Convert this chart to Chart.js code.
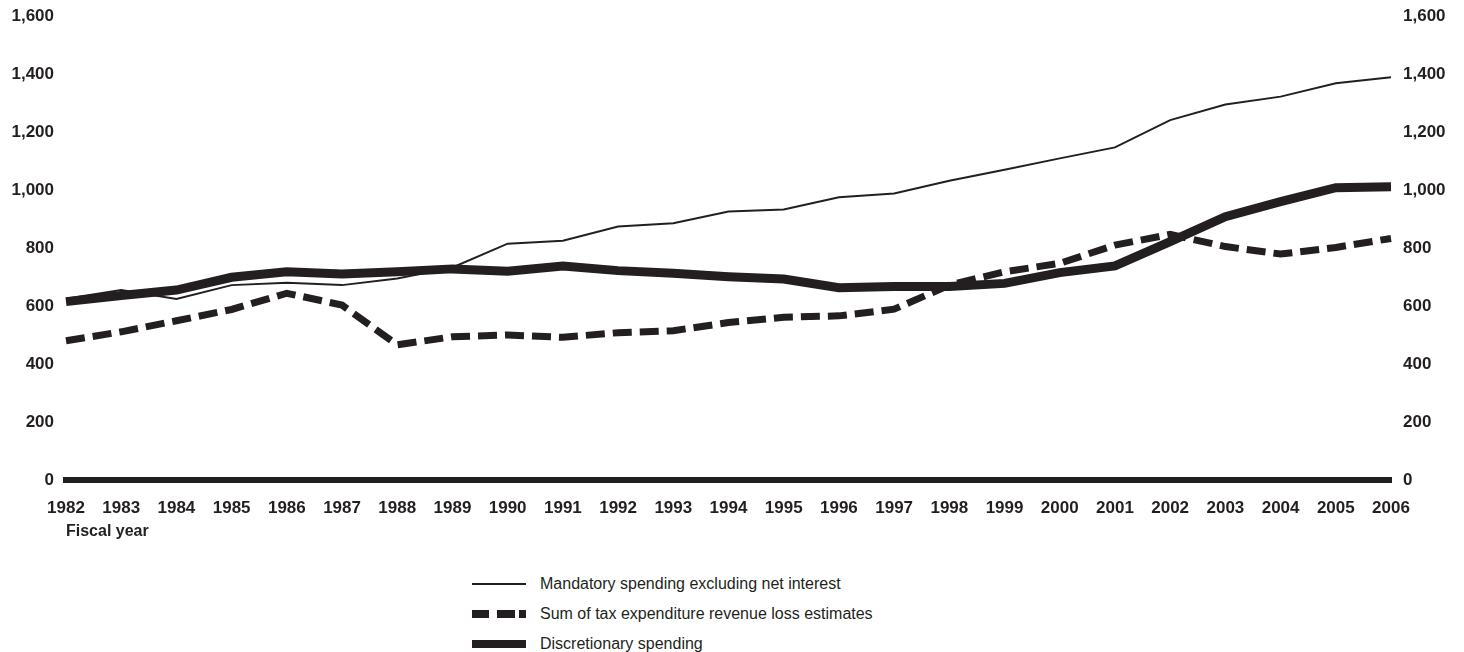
<!DOCTYPE html>
<html>
<head>
<meta charset="utf-8">
<script src="https://cdn.jsdelivr.net/npm/chart.js@4.4.1/dist/chart.umd.min.js"></script>
<style>
  body { margin: 0; background: #fff; }
  #wrap { position: relative; width: 1464px; height: 652px; }
  #box { position: absolute; left: 0; top: 0; width: 1464px; height: 560px; }
  .legend { position: absolute; left: 472px; top: 569px; font-family: "Liberation Sans", Arial, Helvetica, sans-serif; font-size: 16px; color: #231f20; }
  .row { height: 30px; display: flex; align-items: center; }
  .key { width: 54px; margin-right: 14px; position: relative; height: 10px; }
  .key span { position: absolute; left: 0; background: #231f20; }
</style>
</head>
<body>
<div id="wrap">
  <div id="box"><canvas id="lineChart"></canvas></div>
  <div class="legend">
    <div class="row"><div class="key"><span style="top:4px;width:54px;height:2px"></span></div>Mandatory spending excluding net interest</div>
    <div class="row"><div class="key">
      <span style="top:1px;width:17px;height:8px"></span>
      <span style="top:1px;left:25px;width:18px;height:8px"></span>
      <span style="top:1px;left:47px;width:7px;height:8px"></span>
    </div>Sum of tax expenditure revenue loss estimates</div>
    <div class="row"><div class="key"><span style="top:1px;width:54px;height:8px"></span></div>Discretionary spending</div>
  </div>
</div>
<script>
var years = ["1982","1983","1984","1985","1986","1987","1988","1989","1990","1991","1992","1993",
             "1994","1995","1996","1997","1998","1999","2000","2001","2002","2003","2004","2005","2006"];

// billions of dollars
var mandatory = [625, 655, 624, 672, 680, 672, 695, 733, 815, 825, 874, 885,
                 926, 933, 975, 988, 1032, 1070, 1109, 1147, 1241, 1295, 1322, 1368, 1389];
var taxExpenditures = [480, 511, 549, 588, 644, 603, 466, 494, 500, 492, 508, 515,
                       543, 561, 566, 589, 672, 718, 747, 810, 847, 805, 779, 802, 833];
var discretionary = [615, 636, 655, 699, 718, 710, 718, 728, 720, 738, 722, 713,
                     701, 693, 663, 667, 667, 678, 715, 738, 822, 908, 960, 1008, 1011];

var yTicks = [0, 200, 400, 600, 800, 1000, 1200, 1400, 1600];

var ink = '#231f20';
var fontFamily = '"Liberation Sans", Arial, Helvetica, sans-serif';
var tickFont = { family: fontFamily, size: 17, weight: 'bold' };

function yAxis(pos, width) {
    return {
        type: 'linear',
        position: pos,
        min: 0,
        max: 1600,
        afterBuildTicks: function (scale) {
            scale.ticks = yTicks.map(function (v) { return { value: v }; });
        },
        afterFit: function (scale) {
            scale.width = width;
            scale.paddingTop = 0;
            scale.paddingBottom = 0;
        },
        grid: { display: false, drawTicks: false },
        border: { display: false },
        ticks: {
            color: ink,
            font: tickFont,
            padding: 12,
            callback: function (v) { return v.toLocaleString('en-US'); }
        }
    };
}

var ctx = document.getElementById('lineChart').getContext('2d');
var myLineChart = new Chart(ctx, {
    type: 'line',
    data: {
        labels: years,
        datasets: [
            {
                label: 'Mandatory spending excluding net interest',
                data: mandatory,
                borderColor: ink,
                borderWidth: 2,
                pointRadius: 0,
                tension: 0,
                yAxisID: 'y'
            },
            {
                label: 'Sum of tax expenditure revenue loss estimates',
                data: taxExpenditures,
                borderColor: ink,
                borderWidth: 7,
                borderDash: [19, 8],
                pointRadius: 0,
                tension: 0,
                yAxisID: 'y'
            },
            {
                label: 'Discretionary spending',
                data: discretionary,
                borderColor: ink,
                borderWidth: 9,
                pointRadius: 0,
                tension: 0,
                yAxisID: 'y'
            }
        ]
    },
    options: {
        responsive: true,
        maintainAspectRatio: false,
        animation: false,
        layout: { padding: { top: 16, left: 0, right: 0, bottom: 0 } },
        plugins: {
            legend: { display: false },
            tooltip: { enabled: false }
        },
        scales: {
            x: {
                offset: false,
                afterFit: function (scale) { scale.height = 80; },
                grid: { display: false, drawTicks: false },
                border: { display: true, width: 6, color: ink },
                ticks: {
                    color: ink,
                    font: tickFont,
                    padding: 18,
                    maxRotation: 0,
                    autoSkip: false
                },
                title: {
                    display: true,
                    text: 'Fiscal year',
                    align: 'start',
                    color: ink,
                    font: { family: fontFamily, size: 16, weight: 'bold' },
                    padding: { top: 0, bottom: 19 }
                }
            },
            y: yAxis('left', 66),
            y2: yAxis('right', 73)
        }
    }
});
</script>
</body>
</html>
